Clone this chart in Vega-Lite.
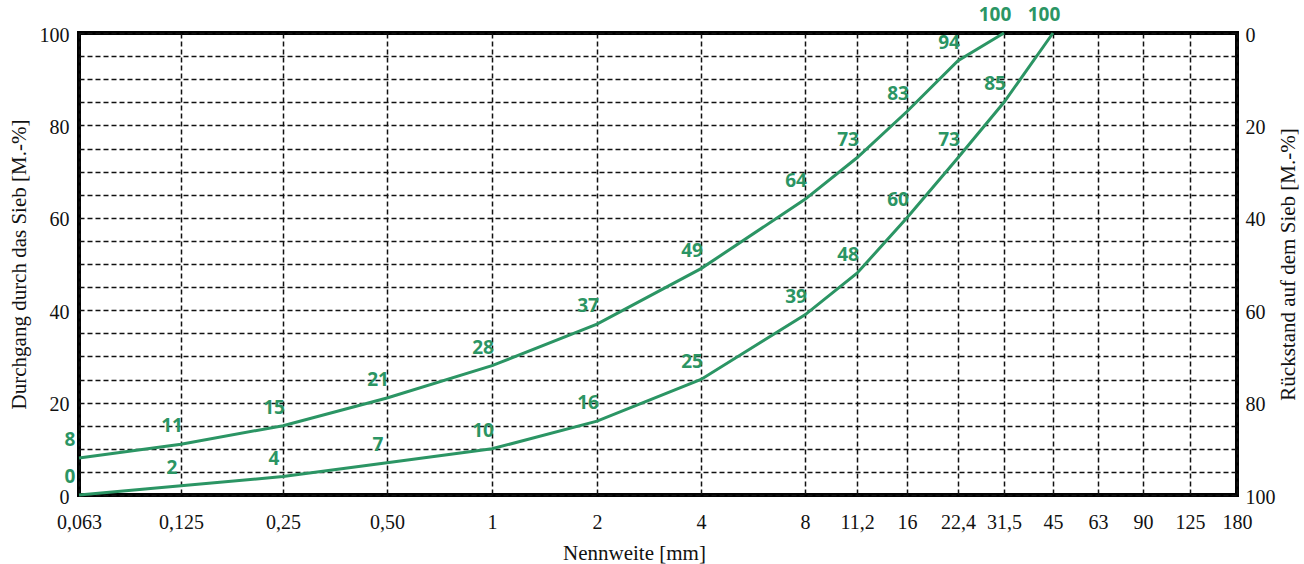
{
  "$schema": "https://vega.github.io/schema/vega-lite/v6.json",
  "width": 1158,
  "height": 462,
  "autosize": {"type": "none"},
  "padding": {"left": 79, "top": 33, "right": 67, "bottom": 69},
  "background": "white",
  "config": {
    "view": {"stroke": "#000", "strokeWidth": 4},
    "axis": {
      "labelFont": "Liberation Serif",
      "titleFont": "Liberation Serif",
      "labelFontSize": 20,
      "titleFontSize": 21,
      "labelColor": "#111",
      "titleColor": "#111",
      "titleFontWeight": "normal",
      "domain": false,
      "ticks": false,
      "labelOverlap": false,
      "labelBound": false
    }
  },
  "data": {
    "values": [
      {"curve": "A", "sieve": 0.063, "pass": 8},
      {"curve": "A", "sieve": 0.125, "pass": 11},
      {"curve": "A", "sieve": 0.25, "pass": 15},
      {"curve": "A", "sieve": 0.5, "pass": 21},
      {"curve": "A", "sieve": 1, "pass": 28},
      {"curve": "A", "sieve": 2, "pass": 37},
      {"curve": "A", "sieve": 4, "pass": 49},
      {"curve": "A", "sieve": 8, "pass": 64},
      {"curve": "A", "sieve": 11.2, "pass": 73},
      {"curve": "A", "sieve": 16, "pass": 83},
      {"curve": "A", "sieve": 22.4, "pass": 94},
      {"curve": "A", "sieve": 31.5, "pass": 100},
      {"curve": "B", "sieve": 0.063, "pass": 0},
      {"curve": "B", "sieve": 0.125, "pass": 2},
      {"curve": "B", "sieve": 0.25, "pass": 4},
      {"curve": "B", "sieve": 0.5, "pass": 7},
      {"curve": "B", "sieve": 1, "pass": 10},
      {"curve": "B", "sieve": 2, "pass": 16},
      {"curve": "B", "sieve": 4, "pass": 25},
      {"curve": "B", "sieve": 8, "pass": 39},
      {"curve": "B", "sieve": 11.2, "pass": 48},
      {"curve": "B", "sieve": 16, "pass": 60},
      {"curve": "B", "sieve": 22.4, "pass": 73},
      {"curve": "B", "sieve": 31.5, "pass": 85},
      {"curve": "B", "sieve": 45, "pass": 100}
    ]
  },
  "layer": [
    {
      "mark": {"type": "line", "color": "#2b9564", "strokeWidth": 3, "interpolate": "linear"},
      "encoding": {
        "x": {
          "field": "sieve",
          "type": "quantitative",
          "scale": {
            "type": "log",
            "nice": false,
            "domain": [0.063, 0.125, 0.25, 0.5, 1, 2, 4, 8, 11.2, 16, 22.4, 31.5, 45, 63, 90, 125, 180],
            "range": [0, 102, 204, 308, 413, 518, 622, 726, 778, 828, 879, 925, 974, 1019, 1064, 1111, 1158]
          },
          "axis": {
            "values": [0.063, 0.125, 0.25, 0.5, 1, 2, 4, 8, 11.2, 16, 22.4, 31.5, 45, 63, 90, 125, 180],
            "labelExpr": "datum.value == 0.5 ? '0,50' : replace(toString(datum.value), '.', ',')",
            "title": "Nennweite [mm]",
            "grid": true,
            "gridDash": [5, 3],
            "gridColor": "#111",
            "gridWidth": 1.5,
            "labelPadding": 17,
            "titlePadding": 10,
            "titleX": 555,
            "labelFlush": false
          }
        },
        "y": {
          "field": "pass",
          "type": "quantitative",
          "scale": {"domain": [0, 100], "nice": false},
          "axis": {
            "orient": "left",
            "values": [0, 5, 10, 15, 20, 25, 30, 35, 40, 45, 50, 55, 60, 65, 70, 75, 80, 85, 90, 95, 100],
            "labelExpr": "datum.value % 20 == 0 ? datum.label : ''",
            "title": "Durchgang durch das Sieb [M.-%]",
            "grid": true,
            "gridDash": [5, 3],
            "gridColor": "#111",
            "gridWidth": 1.5,
            "labelPadding": 10,
            "labelOffset": 2,
            "titlePadding": 10
          }
        },
        "detail": {"field": "curve"}
      }
    },
    {
      "mark": {"type": "text", "color": "#2b9564", "font": "Open Sans", "fontWeight": "bold", "fontSize": 19, "dx": -9, "dy": -18},
      "encoding": {
        "x": {"field": "sieve", "type": "quantitative"},
        "y": {
          "field": "pass",
          "type": "quantitative",
          "axis": {
            "orient": "right",
            "values": [0, 20, 40, 60, 80, 100],
            "labelExpr": "format(100 - datum.value, 'd')",
            "title": "Rückstand auf dem Sieb [M.-%]",
            "grid": false,
            "labelPadding": 8,
            "labelOffset": 2,
            "titlePadding": 2,
            "titleAngle": 270,
            "titleBaseline": "top"
          }
        },
        "text": {"field": "pass", "type": "quantitative"}
      }
    }
  ],
  "resolve": {"axis": {"y": "independent"}}
}
